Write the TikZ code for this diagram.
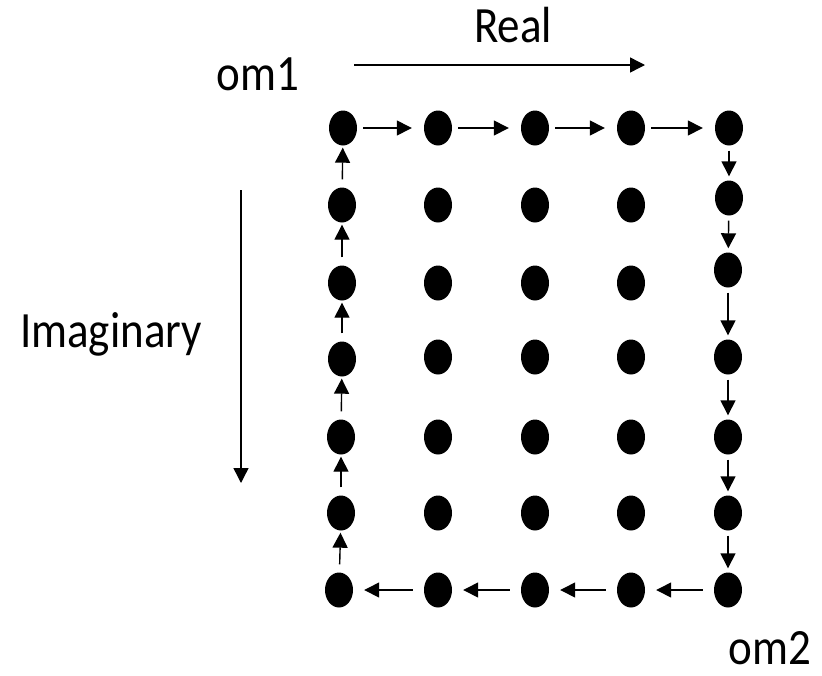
\documentclass[tikz,border=0pt]{standalone}
\usepackage{fontspec}
\setmainfont{Carlito}
\usetikzlibrary{shapes.geometric,arrows.meta}
\newcommand{\tallt}[1]{\scalebox{1}[1.13]{#1}}
\begin{document}
\begin{tikzpicture}[x=1pt,y=-1pt,
  dot/.style={ellipse,fill=black,inner sep=0pt,minimum width=28pt,minimum height=35pt},
  flow/.style={line width=1.4pt,-{Triangle[length=15pt,width=15pt]}},
  lbl/.style={font=\fontsize{45}{50}\selectfont,anchor=base,inner sep=0pt,text depth=0pt}]
\useasboundingbox (0,0) rectangle (822,675);
% grid of dots
\foreach \r/\x/\y in {1/343/128,2/342/205,3/342/283,4/342/359,5/341/437,6/341/513,7/339/590}
  \node[dot] (d\r-1) at (\x,\y) {};
\foreach \r/\y in {1/128,2/205,3/283,4/357,5/437,6/513,7/590}{
  \node[dot] (d\r-2) at (438,\y) {};
  \node[dot] (d\r-3) at (535,\y) {};
  \node[dot] (d\r-4) at (631,\y) {};
}
\foreach \r/\x/\y in {1/729/128,2/729/198,3/728/270,4/728/357,5/728/437,6/728/513,7/728/590}
  \node[dot] (d\r-5) at (\x,\y) {};
% boundary path arrows
\foreach \a/\b in {1/2,2/3,3/4,4/5}
  \draw[flow,shorten <=6pt,shorten >=12pt] (d1-\a) -- (d1-\b);
\foreach \a/\b in {1/2,2/3,3/4,4/5,5/6,6/7}
  \draw[flow,shorten <=5pt,shorten >=4pt] (d\a-5) -- (d\b-5);
\foreach \a/\b in {5/4,4/3,3/2,2/1}
  \draw[flow,shorten <=11pt,shorten >=11pt] (d7-\a) -- (d7-\b);
\foreach \a/\b in {7/6,6/5,5/4,4/3,3/2,2/1}
  \draw[flow,shorten <=8pt,shorten >=2pt] (d\a-1) -- (d\b-1);
% axes
\coordinate (ra) at (354,65);
\coordinate (rb) at (645,65);
\coordinate (ia) at (241,190);
\coordinate (ib) at (241,483);
\draw[flow] (ra) -- (rb);
\draw[flow] (ia) -- (ib);
% labels
\node[lbl] (real) at (513,42) {\tallt{Real}};
\node[lbl] (om1) at (258,90) {\tallt{om1}};
\node[lbl] (imag) at (111,347) {\tallt{Imaginary}};
\node[lbl] (om2) at (770,664) {\tallt{om2}};
\end{tikzpicture}
\end{document}
